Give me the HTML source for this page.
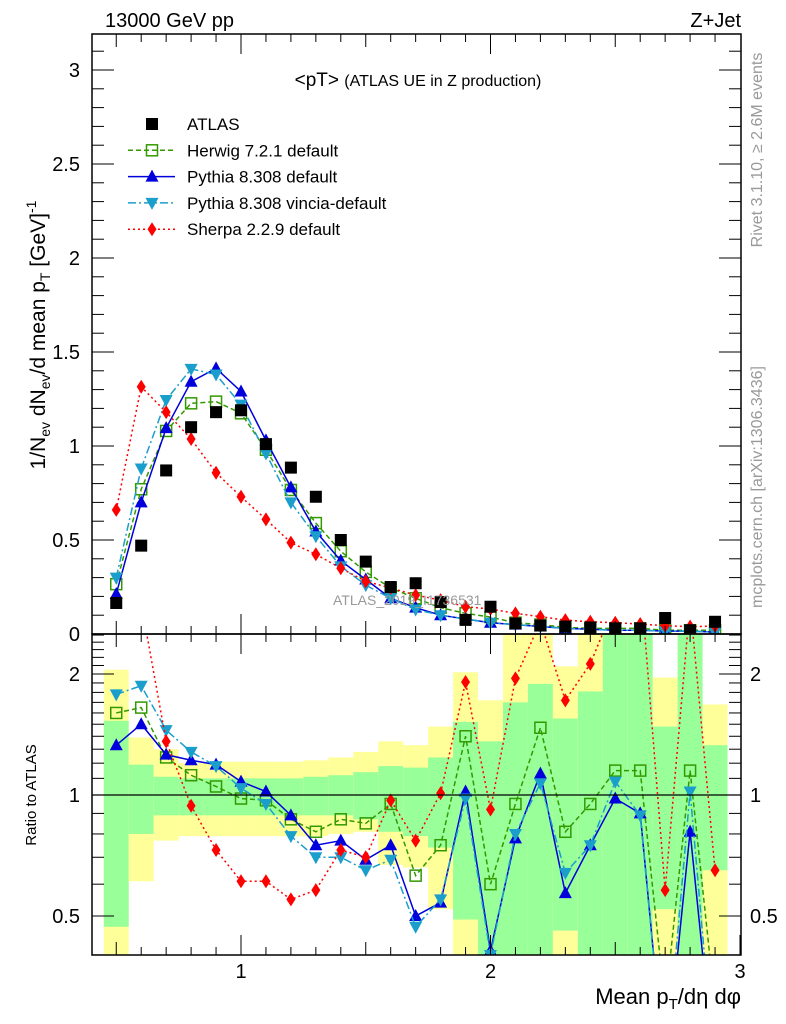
<!DOCTYPE html>
<html><head><meta charset="utf-8"><style>
html,body{margin:0;padding:0;background:#fff;width:786px;height:1024px;overflow:hidden;}
svg{display:block;font-family:"Liberation Sans",sans-serif;}
</style></head><body>
<svg id="chart" width="786" height="1024" viewBox="0 0 786 1024" xmlns="http://www.w3.org/2000/svg">
<defs>
<clipPath id="clipMain"><rect x="92" y="34" width="649" height="600"/></clipPath>
<clipPath id="clipRatio"><rect x="92" y="634" width="649" height="321"/></clipPath>
</defs>
<g id="bands" clip-path="url(#clipRatio)"></g>
<g id="mainMarks" clip-path="url(#clipMain)"></g>
<g id="ratioMarks" clip-path="url(#clipRatio)"></g>
<g id="axes"></g>
<text x="105" y="27" font-size="20">13000 GeV pp</text>
<text x="741" y="27" font-size="20" text-anchor="end">Z+Jet</text>
<text x="418" y="86" font-size="19" text-anchor="middle">&lt;pT&gt; <tspan font-size="16">(ATLAS UE in Z production)</tspan></text>
<text x="333" y="605" font-size="14" fill="#999">ATLAS_2019_I1736531</text>
<text transform="translate(45,335) rotate(-90)" font-size="21" text-anchor="middle">1/N<tspan font-size="14" dy="5">ev</tspan><tspan dy="-5"> dN</tspan><tspan font-size="14" dy="5">ev</tspan><tspan dy="-5">/d mean p</tspan><tspan font-size="14" dy="5">T</tspan><tspan dy="-5"> [GeV]</tspan><tspan font-size="14" dy="-9">-1</tspan></text>
<text transform="translate(36,795) rotate(-90)" font-size="15" text-anchor="middle">Ratio to ATLAS</text>
<text x="741" y="1004" font-size="22" text-anchor="end">Mean p<tspan font-size="15" dy="5">T</tspan><tspan dy="-5">/dη dφ</tspan></text>
<text transform="translate(762,150) rotate(-90)" font-size="16" fill="#999" text-anchor="middle">Rivet 3.1.10, ≥ 2.6M events</text>
<text transform="translate(762,487) rotate(-90)" font-size="16" fill="#999" text-anchor="middle">mcplots.cern.ch [arXiv:1306.3436]</text>
<g id="legend"></g>
</svg>
<script>
const xs=[0.5,0.6,0.7,0.8,0.9,1.0,1.1,1.2,1.3,1.4,1.5,1.6,1.7,1.8,1.9,2.0,2.1,2.2,2.3,2.4,2.5,2.6,2.7,2.8,2.9];
const atlas=[0.165,0.47,0.87,1.10,1.18,1.19,1.01,0.885,0.73,0.50,0.385,0.25,0.27,0.17,0.075,0.145,0.056,0.045,0.04,0.035,0.03,0.03,0.085,0.02,0.065];
const herwig=[0.265,0.77,1.08,1.227,1.236,1.174,0.98,0.766,0.59,0.44,0.33,0.245,0.19,0.14,0.11,0.09,0.06,0.05,0.035,0.03,0.03,0.03,0.02,0.02,0.02];
const pythia=[0.213,0.70,1.095,1.342,1.413,1.29,1.03,0.78,0.545,0.39,0.29,0.19,0.14,0.10,0.08,0.06,0.05,0.04,0.03,0.025,0.02,0.02,0.015,0.015,0.01];
const vincia=[0.30,0.88,1.245,1.41,1.38,1.22,0.96,0.70,0.52,0.36,0.26,0.19,0.13,0.10,0.08,0.06,0.05,0.04,0.03,0.025,0.02,0.02,0.015,0.015,0.01];
const sherpa=[0.66,1.315,1.18,1.037,0.858,0.73,0.61,0.486,0.424,0.35,0.28,0.245,0.207,0.18,0.145,0.133,0.11,0.092,0.074,0.065,0.06,0.053,0.044,0.039,0.042];
const rHerwig=[1.60,1.65,1.24,1.12,1.05,0.98,0.97,0.87,0.81,0.87,0.85,0.95,0.63,0.75,1.40,0.60,0.95,1.47,0.81,0.95,1.15,1.15,0.3,1.15,0.3];
const rPythia=[1.33,1.50,1.26,1.22,1.19,1.08,1.02,0.89,0.75,0.77,0.69,0.75,0.50,0.54,1.02,0.41,0.78,1.13,0.57,0.75,0.98,0.90,0.2,0.81,0.2];
const rVincia=[1.78,1.87,1.45,1.28,1.18,1.04,0.95,0.79,0.70,0.70,0.65,0.69,0.47,0.55,0.98,0.40,0.80,1.07,0.64,0.75,1.08,0.89,0.2,1.02,0.2];
const rSherpa=[4.0,3.0,1.36,0.94,0.73,0.61,0.61,0.55,0.58,0.73,0.70,0.97,0.77,1.01,1.91,0.92,1.95,2.7,1.72,2.12,3.0,3.5,0.58,3.0,0.65];
const yelHi=[2.05,1.39,1.30,1.20,1.21,1.21,1.21,1.21,1.22,1.24,1.28,1.36,1.33,1.48,2.02,1.72,3,3,2.09,3,3,3,1.96,3,1.68];
const grnHi=[1.53,1.19,1.11,1.10,1.10,1.10,1.10,1.10,1.11,1.12,1.14,1.18,1.17,1.24,1.52,1.36,1.70,1.89,1.55,1.81,3,3,1.48,3,1.33];
const grnLo=[0.47,0.80,0.89,0.89,0.89,0.89,0.89,0.89,0.89,0.89,0.87,0.81,0.79,0.74,0.49,0.3,0.3,0.3,0.46,0.3,0.3,0.3,0.52,0.3,0.65];
const yelLo=[0.3,0.61,0.77,0.79,0.79,0.79,0.79,0.79,0.79,0.80,0.81,0.67,0.66,0.52,0.3,0.3,0.3,0.3,0.3,0.3,0.3,0.3,0.3,0.3,0.3];
const mainTicks=["0","0.5","1","1.5","2","2.5","3"];
const xTickLabels=["1","2","3"];
const ratioTicks=["0.5","1","2"];

const NS="http://www.w3.org/2000/svg";
const X=v=>241+(v-1)*249.5;
const Y=v=>634-v*188;
const R=v=>795-Math.log2(v)*121;
function mk(tag,attrs,parent){const e=document.createElementNS(NS,tag);for(const k in attrs)e.setAttribute(k,attrs[k]);parent.appendChild(e);return e;}
const bands=document.getElementById('bands');
xs.forEach((x,i)=>{
  const x0=X(x-0.05),x1=X(x+0.05);
  const y1=mk('rect',{x:x0,y:R(yelHi[i]),width:x1-x0,height:R(yelLo[i])-R(yelHi[i]),fill:'#ffff99'},bands);
  
  
  const g1=mk('rect',{x:x0,y:R(grnHi[i]),width:x1-x0,height:R(grnLo[i])-R(grnHi[i]),fill:'#99ff99'},bands);
  
  
});
const axes=document.getElementById('axes');
const one=mk('line',{x1:92,x2:741,y1:R(1),y2:R(1),stroke:'#000','stroke-width':1.2},axes);


const f1=mk('rect',{x:92,y:34,width:649,height:600,fill:'none',stroke:'#000','stroke-width':1.5},axes);


const f2=mk('rect',{x:92,y:634,width:649,height:321,fill:'none',stroke:'#000','stroke-width':1.5},axes);


for(let k=5;k<=29;k++){const v=k/10;const px=X(v);const L=(k%10===0)?20:(k%5===0?13:8);
  [[634,634-L],[34,34+L],[955,955-L],[634,634+L]].forEach(p=>{mk('line',{x1:px,x2:px,y1:p[0],y2:p[1],stroke:'#000','stroke-width':1},axes);});
}
mk('line',{x1:X(3),x2:X(3),y1:955,y2:935,stroke:'#000'},axes);
xTickLabels.forEach(t=>{const e=mk('text',{x:X(+t),y:978,'font-size':20,'text-anchor':'middle'},axes);e.textContent=t;
  
  });
for(let k=0;k<=31;k++){const v=k/10;const py=Y(v);const L=(k%5===0)?22:12;
  mk('line',{x1:92,x2:92+L,y1:py,y2:py,stroke:'#000'},axes);mk('line',{x1:741,x2:741-L,y1:py,y2:py,stroke:'#000'},axes);}
mainTicks.forEach(t=>{const e=mk('text',{x:80,y:Y(+t)+7,'font-size':20,'text-anchor':'end'},axes);e.textContent=t;
  
  });
[0.4,0.5,0.6,0.7,0.8,0.9,1,1.1,1.2,1.3,1.4,1.5,1.6,1.7,1.8,1.9,2,2.1,2.2,2.3,2.4,2.5].forEach(v=>{const py=R(v);if(py<634||py>955)return;
  const L=(v===0.5||v===1||v===2)?22:12;
  mk('line',{x1:92,x2:92+L,y1:py,y2:py,stroke:'#000'},axes);mk('line',{x1:741,x2:741-L,y1:py,y2:py,stroke:'#000'},axes);});
ratioTicks.forEach(t=>{const e=mk('text',{x:80,y:R(+t)+7,'font-size':20,'text-anchor':'end'},axes);e.textContent=t;
  
  
  const e2=mk('text',{x:750,y:R(+t)+7,'font-size':20},axes);e2.textContent=t;
  
  });

function marker(type,x,y,color,parent){
  let e;
  if(type==='sq')e=mk('rect',{x:x-6,y:y-6,width:12,height:12,fill:'#000'},parent);
  else if(type==='osq')e=mk('rect',{x:x-5.5,y:y-5.5,width:11,height:11,fill:'none',stroke:color,'stroke-width':1.5},parent);
  else if(type==='up')e=mk('polygon',{points:`${x},${y-7} ${x-6.5},${y+5} ${x+6.5},${y+5}`,fill:color},parent);
  else if(type==='down')e=mk('polygon',{points:`${x},${y+7} ${x-6.5},${y-5} ${x+6.5},${y-5}`,fill:color},parent);
  else e=mk('polygon',{points:`${x},${y-7} ${x-4.5},${y} ${x},${y+7} ${x+4.5},${y}`,fill:color},parent);
  return e;
}
const series=[
 {name:'herwig',vals:herwig,r:rHerwig,color:'#339900',dash:'5,3',m:'osq'},
 {name:'pythia',vals:pythia,r:rPythia,color:'#0000dd',dash:'',m:'up'},
 {name:'vincia',vals:vincia,r:rVincia,color:'#1a9ecb',dash:'8,3,2,3',m:'down'},
 {name:'sherpa',vals:sherpa,r:rSherpa,color:'#ff0000',dash:'2,3',m:'dia'}];
const mainG=document.getElementById('mainMarks'),ratG=document.getElementById('ratioMarks');
series.forEach(s=>{
  const pl=mk('polyline',{points:xs.map((x,i)=>X(x)+','+Y(s.vals[i])).join(' '),fill:'none',stroke:s.color,'stroke-width':1.5,'stroke-dasharray':s.dash},mainG);
  
  
  xs.forEach((x,i)=>{const e=marker(s.m,X(x),Y(s.vals[i]),s.color,mainG);
    
    });
  const rl=mk('polyline',{points:xs.map((x,i)=>X(x)+','+R(s.r[i])).join(' '),fill:'none',stroke:s.color,'stroke-width':1.5,'stroke-dasharray':s.dash},ratG);
  
  
  xs.forEach((x,i)=>{const e=marker(s.m,X(x),R(s.r[i]),s.color,ratG);
    
    });
});
xs.forEach((x,i)=>{const e=marker('sq',X(x),Y(atlas[i]),'#000',mainG);
  
  });
const lg=document.getElementById('legend');
const entries=[['sq','#000','','ATLAS'],['osq','#339900','5,3','Herwig 7.2.1 default'],['up','#0000dd','','Pythia 8.308 default'],['down','#1a9ecb','8,3,2,3','Pythia 8.308 vincia-default'],['dia','#ff0000','2,3','Sherpa 2.2.9 default']];
entries.forEach((en,i)=>{const y=124+i*26.3;
  const g=mk('g',{},lg);
  
  
  if(i>0)mk('line',{x1:128,x2:175,y1:y,y2:y,stroke:en[1],'stroke-width':1.5,'stroke-dasharray':en[2]},g);
  marker(en[0],152,y,en[1],g);
  const t=mk('text',{x:187,y:y+6,'font-size':17},g);t.textContent=en[3];});
</script>
</body></html>
